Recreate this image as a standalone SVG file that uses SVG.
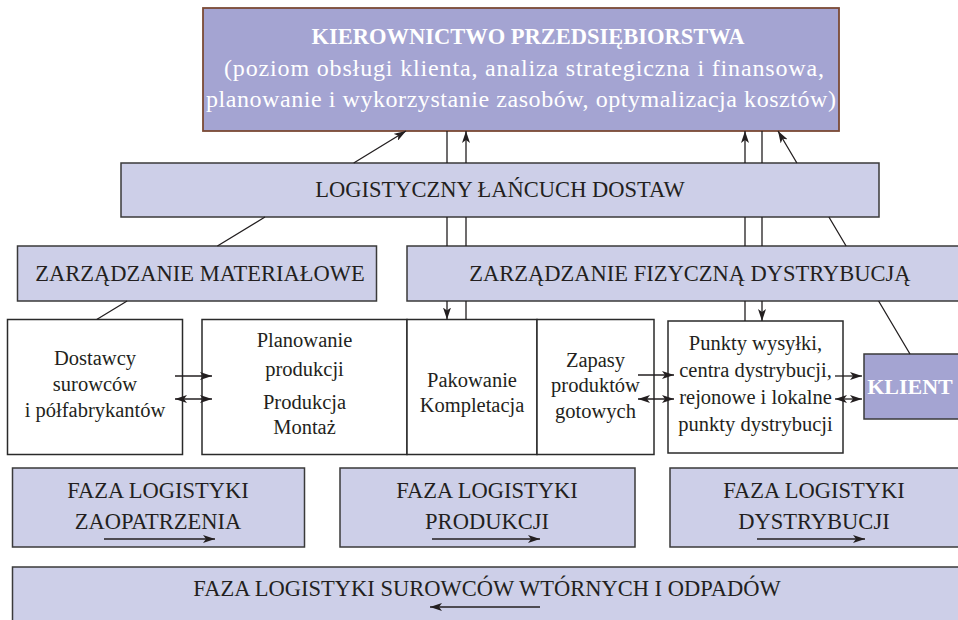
<svg xmlns="http://www.w3.org/2000/svg" width="958" height="620" viewBox="0 0 958 620">
<style>
.lt{fill:#cdcfe8;stroke:#3a3a3a;stroke-width:1.5}
.dk{fill:#a4a4d2;stroke:#3a3a3a;stroke-width:1.5}
.wb{fill:#ffffff;stroke:#2a2a2a;stroke-width:1.5}
.cap{font-family:"Liberation Serif","Times New Roman",serif;font-size:22.5px;fill:#231f20;text-anchor:middle}
.lc{font-family:"Liberation Serif","Times New Roman",serif;font-size:20.5px;fill:#231f20;text-anchor:middle}
.wt{font-family:"Liberation Serif","Times New Roman",serif;fill:#ffffff;text-anchor:middle}
.ln{fill:none;stroke:#231f20;stroke-width:1.3}
</style>
<defs>
<marker id="ah" viewBox="0 0 12 8" refX="12" refY="4" markerWidth="12" markerHeight="8" markerUnits="userSpaceOnUse" orient="auto-start-reverse">
<path d="M0,0 L12,4 L0,8 L3,4 z" fill="#231f20"/>
</marker>
</defs>

<g id="top">
<rect x="203" y="8" width="636" height="123" fill="#a4a4d2" stroke="#7b4a35" stroke-width="1.8"/>
<text class="wt" x="528" y="44" font-size="22.5" font-weight="bold">KIEROWNICTWO PRZEDSIĘBIORSTWA</text>
<text class="wt" x="524" y="76" font-size="24" textLength="600" lengthAdjust="spacing">(poziom obsługi klienta, analiza strategiczna i finansowa,</text>
<text class="wt" x="521" y="107" font-size="24" textLength="630" lengthAdjust="spacing">planowanie i wykorzystanie zasobów, optymalizacja kosztów)</text>
</g>

<g id="lancuch">
<rect class="lt" x="121" y="163" width="758" height="54"/>
<text class="cap" x="500" y="197" font-size="23.5">LOGISTYCZNY ŁAŃCUCH DOSTAW</text>
</g>

<g id="zarz-mat">
<rect class="lt" x="17.5" y="246" width="359" height="55"/>
<text class="cap" x="200" y="281" font-size="23.5">ZARZĄDZANIE MATERIAŁOWE</text>
</g>

<g id="zarz-fiz">
<rect class="lt" x="407" y="246" width="560" height="55"/>
<text class="cap" x="690" y="281" font-size="23">ZARZĄDZANIE FIZYCZNĄ DYSTRYBUCJĄ</text>
</g>

<g id="dostawcy">
<rect class="wb" x="7.5" y="319.5" width="175" height="135"/>
<text class="lc" x="95" y="365">Dostawcy</text>
<text class="lc" x="95" y="391">surowców</text>
<text class="lc" x="95" y="417">i półfabrykantów</text>
</g>

<g id="produkcja">
<rect class="wb" x="202" y="319.5" width="205" height="135"/>
<text class="lc" x="304.5" y="347">Planowanie</text>
<text class="lc" x="304.5" y="376">produkcji</text>
<text class="lc" x="304.5" y="409">Produkcja</text>
<text class="lc" x="304.5" y="434">Montaż</text>
</g>

<g id="pakowanie">
<rect class="wb" x="407" y="319.5" width="130" height="135"/>
<text class="lc" x="472" y="387">Pakowanie</text>
<text class="lc" x="472" y="412">Kompletacja</text>
</g>

<g id="zapasy">
<rect class="wb" x="537" y="319.5" width="117" height="135"/>
<text class="lc" x="595.5" y="367">Zapasy</text>
<text class="lc" x="595.5" y="392">produktów</text>
<text class="lc" x="595.5" y="418">gotowych</text>
</g>

<g id="punkty">
<rect class="wb" x="668" y="321" width="175" height="132"/>
<text class="lc" x="755.5" y="350">Punkty wysyłki,</text>
<text class="lc" x="755.5" y="377">centra dystrybucji,</text>
<text class="lc" x="755.5" y="404">rejonowe i lokalne</text>
<text class="lc" x="755.5" y="431">punkty dystrybucji</text>
</g>

<g id="klient">
<rect class="dk" x="864" y="354" width="100" height="65"/>
<text class="wt" x="910" y="394" font-size="22" font-weight="bold">KLIENT</text>
</g>

<g id="faza-zaopatrzenia">
<rect class="lt" x="12.5" y="468" width="292" height="79"/>
<text class="cap" x="158" y="498">FAZA LOGISTYKI</text>
<text class="cap" x="158" y="529">ZAOPATRZENIA</text>
</g>

<g id="faza-produkcji">
<rect class="lt" x="340" y="468" width="295" height="79"/>
<text class="cap" x="487" y="498">FAZA LOGISTYKI</text>
<text class="cap" x="487" y="529">PRODUKCJI</text>
</g>

<g id="faza-dystrybucji">
<rect class="lt" x="670" y="468" width="300" height="79"/>
<text class="cap" x="814" y="498">FAZA LOGISTYKI</text>
<text class="cap" x="814" y="529">DYSTRYBUCJI</text>
</g>

<g id="faza-odpadow">
<rect class="lt" x="12.5" y="567" width="960" height="70"/>
<text class="cap" x="487" y="596" font-size="23.5">FAZA LOGISTYKI SUROWCÓW WTÓRNYCH I ODPADÓW</text>
</g>

<g id="connectors">
<path class="ln" d="M96.7,319.5 L127.1,301 M217.4,246 L265,217 M353.7,163 L406,131" marker-end="url(#ah)"/>
<path class="ln" d="M447,131 L447,163 M447,217 L447,246 M447,301 L447,319.5" marker-end="url(#ah)"/>
<path class="ln" d="M466,319.5 L466,301 M466,246 L466,217 M466,163 L466,131" marker-end="url(#ah)"/>
<path class="ln" d="M745,321 L745,301 M745,246 L745,217 M745,163 L745,131" marker-end="url(#ah)"/>
<path class="ln" d="M762,131 L762,163 M762,217 L762,246 M762,301 L762,321" marker-end="url(#ah)"/>
<path class="ln" d="M910,354 L878.6,301 M846.1,246 L828.9,217 M796.9,163 L778,131" marker-end="url(#ah)"/>
<path class="ln" d="M175,376 L212,376" marker-end="url(#ah)"/>
<path class="ln" d="M175,399 L212,399" marker-start="url(#ah)" marker-end="url(#ah)"/>
<path class="ln" d="M638,375 L674,375" marker-end="url(#ah)"/>
<path class="ln" d="M638,399 L674,399" marker-start="url(#ah)" marker-end="url(#ah)"/>
<path class="ln" d="M835,376 L862,376" marker-end="url(#ah)"/>
<path class="ln" d="M835,399 L862,399" marker-start="url(#ah)" marker-end="url(#ah)"/>
<path class="ln" d="M104,539 L215,539" marker-end="url(#ah)"/>
<path class="ln" d="M432,539 L540,539" marker-end="url(#ah)"/>
<path class="ln" d="M757,539 L865,539" marker-end="url(#ah)"/>
<path class="ln" d="M540,607 L430,607" marker-end="url(#ah)"/>
</g>
</svg>
